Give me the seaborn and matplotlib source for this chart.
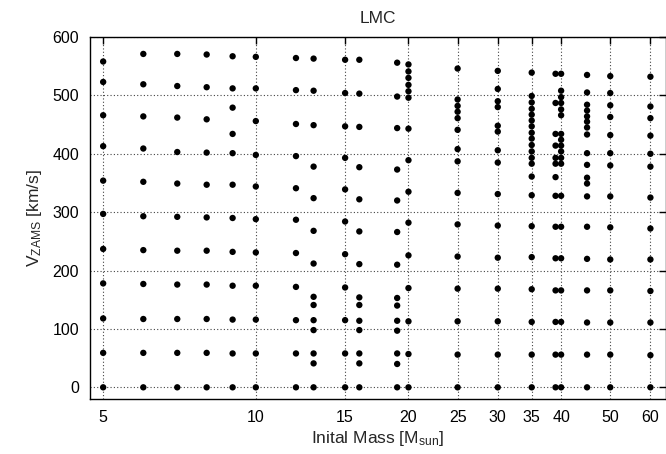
import numpy as np
import pandas as pd
import matplotlib
matplotlib.use("Agg")
import matplotlib.pyplot as plt
import seaborn as sns
from matplotlib.ticker import FixedLocator, NullLocator

# ---- data: initial mass -> list of ZAMS rotational velocities (km/s)
v_m5 = [0, 59, 118, 178, 237, 297, 354, 413, 466, 523, 558]
v_m6 = [0, 59, 117, 177, 235, 293, 352, 409, 464, 519, 571]
v_m7 = [0, 59, 117, 176, 234, 292, 349, 403, 462, 516, 571]
v_m8 = [0, 59, 117, 176, 234, 291, 347, 402, 459, 514, 570]
v_m9 = [0, 58, 116, 174, 232, 290, 347, 401, 434, 479, 512, 567]
v_m10 = [0, 58, 116, 174, 231, 288, 344, 398, 456, 512, 566]
v_m12 = [0, 58, 115, 172, 230, 287, 341, 396, 451, 509, 564]
v_m13 = [0, 41, 58, 98, 115, 141, 155, 212, 268, 324, 378, 449, 508, 563]
v_m15 = [0, 58, 115, 171, 228, 284, 339, 393, 447, 504, 561]
v_m16 = [0, 41, 58, 98, 114, 141, 154, 211, 267, 322, 377, 446, 503, 561]
v_m19 = [0, 40, 58, 97, 114, 140, 153, 210, 266, 320, 373, 444, 498, 556]
v_m20 = [0, 57, 113, 170, 226, 282, 335, 389, 443, 496, 507, 518, 530, 541, 553]
v_m25 = [0, 56, 113, 169, 224, 279, 333, 387, 408, 441, 461, 472, 482, 493, 546]
v_m30 = [0, 56, 113, 169, 222, 277, 331, 385, 406, 438, 448, 480, 490, 511, 542]
v_m35 = [0, 56, 112, 168, 223, 276, 329, 361, 383, 393, 404, 415, 426, 436,
         447, 457, 467, 477, 488, 499, 539]
v_m39 = [0, 56, 112, 166, 221, 275, 328, 360, 383, 393, 414, 434, 487, 537]
v_m40 = [0, 56, 112, 166, 221, 275, 328, 383, 393, 404, 414, 424, 434, 466,
         476, 487, 497, 508, 537]
v_m45 = [0, 56, 111, 166, 220, 275, 327, 349, 359, 381, 401, 433, 445, 455,
         464, 474, 484, 505, 535]
v_m50 = [0, 56, 111, 166, 219, 274, 327, 380, 401, 432, 463, 483, 504, 533]
v_m60 = [0, 55, 111, 165, 219, 272, 325, 378, 400, 431, 461, 481, 532]

masses = [5, 6, 7, 8, 9, 10, 12, 13, 15, 16, 19, 20, 25, 30, 35, 39, 40, 45, 50, 60]
velocities = [v_m5, v_m6, v_m7, v_m8, v_m9, v_m10, v_m12, v_m13, v_m15, v_m16,
              v_m19, v_m20, v_m25, v_m30, v_m35, v_m39, v_m40, v_m45, v_m50, v_m60]

x_ticks = [5, 10, 15, 20, 25, 30, 35, 40, 50, 60]
y_ticks = [0, 100, 200, 300, 400, 500, 600]

rows = [(m, v) for m, vs in zip(masses, velocities) for v in vs]
df = pd.DataFrame(rows, columns=["mass", "vzams"])

sns.set_style("white")
plt.rcParams["font.family"] = ["Liberation Sans", "DejaVu Sans"]
plt.rcParams["mathtext.fontset"] = "custom"
plt.rcParams["mathtext.rm"] = "Liberation Sans"
plt.rcParams["mathtext.it"] = "Liberation Sans"

fig = plt.figure(figsize=(6.66, 4.54), dpi=100)
ax = fig.add_axes([90 / 666, 55 / 454, 1 - 90 / 666, (399 - 37) / 454])

sns.scatterplot(data=df, x="mass", y="vzams", ax=ax, color="black", s=21,
                edgecolor="none", linewidth=0, zorder=3)

ax.set_xscale("log")
ax.set_xlim(4.71, 64.4)
ax.set_ylim(-20, 600)
ax.xaxis.set_major_locator(FixedLocator(x_ticks))
ax.xaxis.set_minor_locator(NullLocator())
ax.set_xticks(x_ticks)
ax.set_xticklabels([str(t) for t in x_ticks])
ax.set_yticks(y_ticks)

ax.grid(True, which="major", linestyle=(0, (1, 2)), color="#444444", linewidth=0.8)
ax.tick_params(axis="both", which="major", direction="in", length=5, width=1,
               labelsize=11.5, colors="black", top=True, right=True, pad=8)
for s in ax.spines.values():
    s.set_color("black")
    s.set_linewidth(1.0)

ax.set_xlabel(r"Inital Mass [M$_{\rm sun}$]", fontsize=12.5, labelpad=3)
ax.set_ylabel(r"V$_{\rm ZAMS}$ [km/s]", fontsize=12.5, labelpad=6)
ax.set_title("LMC", fontsize=12.5, pad=10)

fig.savefig("out.png", dpi=100)
